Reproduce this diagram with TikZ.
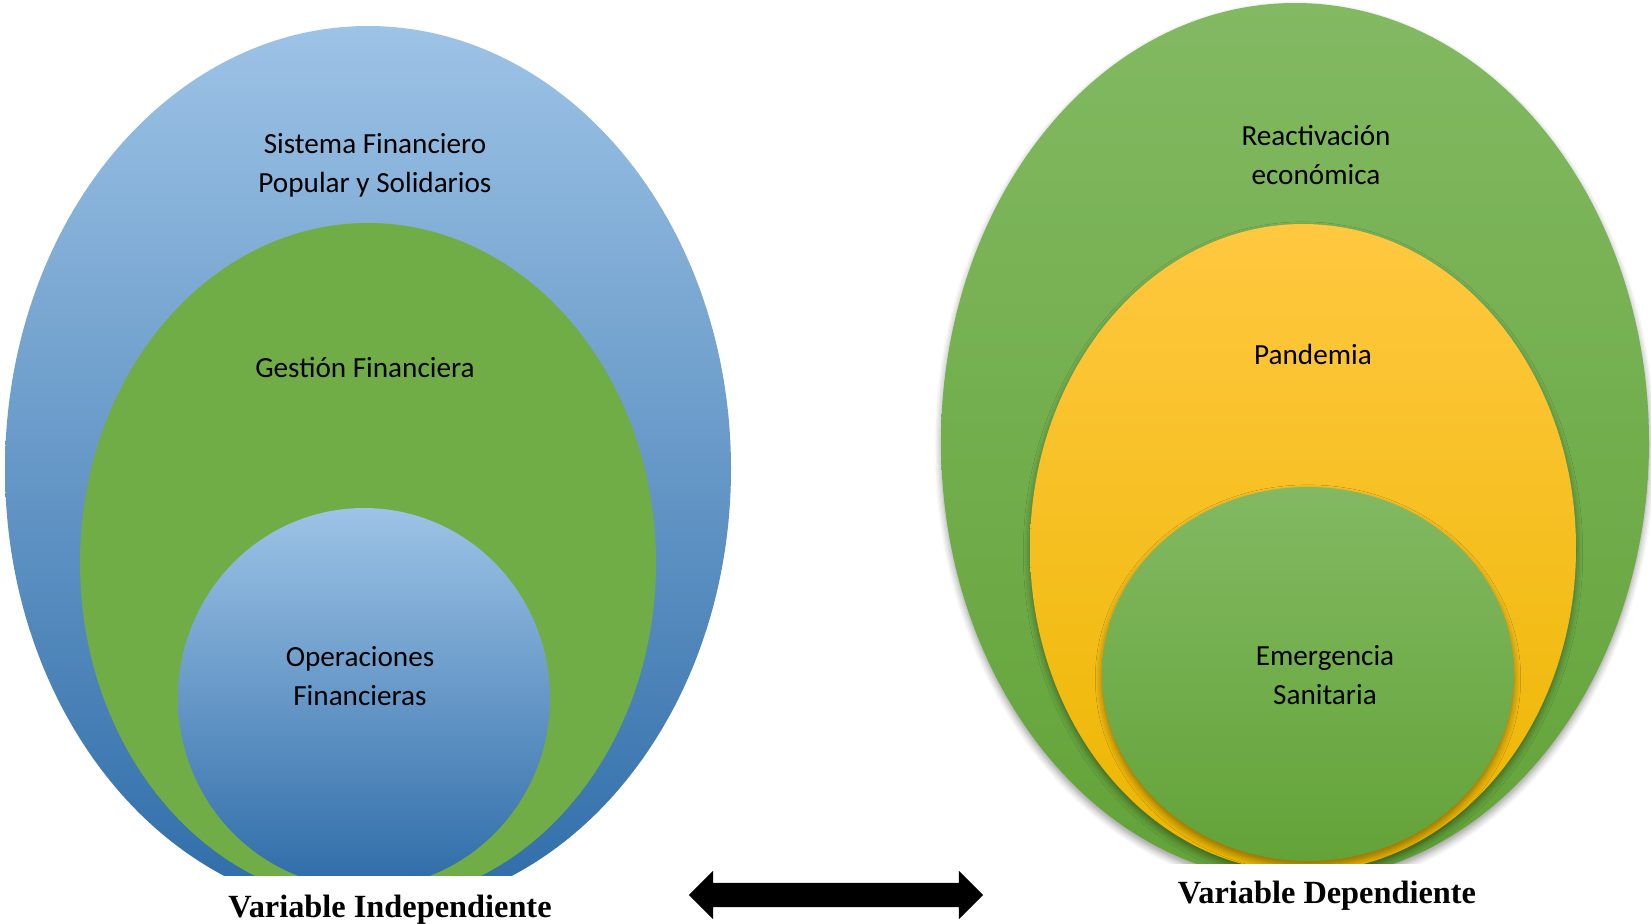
\documentclass[tikz,border=0pt]{standalone}
\usepackage{fontspec}
\setmainfont{Carlito}
\newfontfamily\labelfont{Liberation Serif}
\usetikzlibrary{shapes.arrows,shadows.blur}
\definecolor{skytop}{RGB}{157,195,230}
\definecolor{skymid}{RGB}{96,155,212}
\definecolor{skybot}{RGB}{46,108,168}
\definecolor{leafgreen}{RGB}{112,173,71}
\definecolor{leaftop}{RGB}{130,185,98}
\definecolor{leafbot}{RGB}{99,163,56}
\definecolor{suntop}{RGB}{255,200,64}
\definecolor{sunmid}{RGB}{255,193,10}
\definecolor{sunbot}{RGB}{236,182,0}

\begin{document}
\begin{tikzpicture}[x=0.01cm, y=0.01cm]
    \tikzstyle{level} = [align=center, text centered, text=black, font=\fontsize{8.3}{11.1}\selectfont]
    \tikzstyle{varlabel} = [text centered, font=\labelfont\bfseries\fontsize{9.2}{11}\selectfont]
    \tikzstyle{skyfill} = [top color=skytop, middle color=skymid, bottom color=skybot]
    \tikzstyle{leaffill} = [top color=leaftop, bottom color=leafbot]
    \tikzstyle{sunfill} = [top color=suntop, middle color=sunmid, bottom color=sunbot]
    \tikzstyle{soft} = [blur shadow={shadow xshift=0pt, shadow yshift=-1.3pt, shadow opacity=40, shadow blur steps=6}]
    \useasboundingbox (0,0) rectangle (1651,-923);

    % Independent variable
    \begin{scope}
        \clip (0,0) rectangle (760,-875);
        \shade [skyfill] (368,-469) ellipse [x radius=363, y radius=443];
        \fill [leafgreen] (368,-563) ellipse [x radius=288, y radius=340];
        \shade [skyfill] (364,-698) ellipse [x radius=186, y radius=190];
    \end{scope}
    \node [level] (sistema) at (375,-165) {Sistema Financiero\\Popular y Solidarios};
    \node [level] (gestion) at (365,-367) {Gestión Financiera};
    \node [level] (operaciones) at (360,-676) {Operaciones\\Financieras};

    % Dependent variable
    \begin{scope}
        \clip (880,0) rectangle (1651,-863);
        \shade [leaffill, soft] (1295,-442) ellipse [x radius=354, y radius=439];
        \shade [sunfill, soft] (1303,-548) ellipse [x radius=273, y radius=324];
        \shade [leaffill, soft] (1308,-674) ellipse [x radius=206, y radius=187];
    \end{scope}
    \node [level] (reactivacion) at (1316,-155) {Reactivación\\económica};
    \node [level] (pandemia) at (1313,-354) {Pandemia};
    \node [level] (emergencia) at (1325,-675) {Emergencia\\Sanitaria};

    % Labels and link
    \node [varlabel] (indep) at (390,-910) {Variable Independiente};
    \node [varlabel] (dep) at (1327,-896) {Variable Dependiente};
    \node [double arrow, fill=black, inner xsep=0pt, inner ysep=0.115cm, minimum height=2.94cm,
        double arrow head extend=0.12cm] (link) at (836,-895) {};
\end{tikzpicture}
\end{document}
